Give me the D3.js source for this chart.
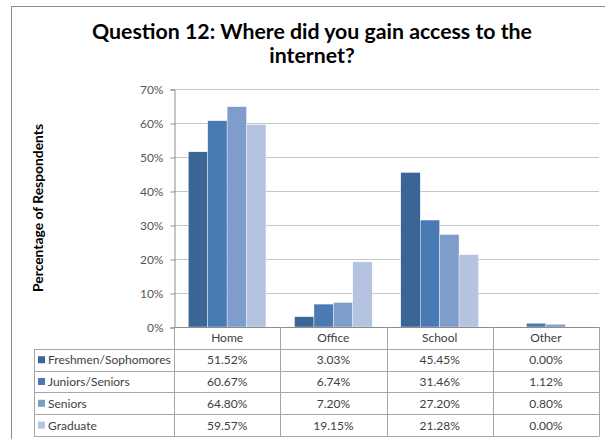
<!DOCTYPE html>
<html>
<head>
<meta charset="utf-8">
<script src="https://cdn.jsdelivr.net/npm/d3@7"></script>
<style>
  body { margin: 0; background: #fff; }
  text { font-family: Lato, "Open Sans", sans-serif; }
</style>
</head>
<body>
<div id="chart"></div>
<script>
// Chart data
const categories = ['Home', 'Office', 'School', 'Other'];
const seriesNames = ['Freshmen/Sophomores', 'Juniors/Seniors', 'Seniors', 'Graduate'];
const freshmenSophomores = [51.52, 3.03, 45.45, 0.00];
const juniorsSeniors = [60.67, 6.74, 31.46, 1.12];
const seniors = [64.80, 7.20, 27.20, 0.80];
const graduate = [59.57, 19.15, 21.28, 0.00];
const yTicks = [0, 10, 20, 30, 40, 50, 60, 70];

const seriesValues = [freshmenSophomores, juniorsSeniors, seniors, graduate];
const colors = ['#3b6497', '#4a7ab4', '#7e9dcb', '#b4c4e0'];

const width = 605;
const height = 439;
const plot = { left: 174, right: 599, top: 89, bottom: 327 };
const rowH = 21.8;
const tableLeft = 34;
const tableFont = '12px';

const svg = d3.select('#chart')
  .append('svg')
  .attr('width', width)
  .attr('height', height);

// Scale a text's font size so it spans roughly the given width
function fitWidth(sel, target) {
  const node = sel.node();
  const size = parseFloat(sel.style('font-size'));
  const w = node.getComputedTextLength();
  if (w > 0) sel.style('font-size', (size * target / w).toFixed(2) + 'px');
}

// Outer chart border
svg.append('rect')
  .attr('x', 11.5)
  .attr('y', 6.5)
  .attr('width', 620)
  .attr('height', 440)
  .attr('fill', 'none')
  .attr('stroke', '#8c8c8c')
  .attr('stroke-width', 1);

// Title
const title = svg.append('text')
  .attr('text-anchor', 'middle')
  .style('font-size', '20px')
  .style('font-weight', 'bold')
  .style('fill', '#000');
title.append('tspan').attr('x', 312).attr('y', 39).text('Question 12: Where did you gain access to the');
fitWidth(title, 440);
title.append('tspan').attr('x', 312).attr('y', 63).text('internet?');

// Scales
const x0 = d3.scaleBand()
  .domain(categories)
  .range([plot.left, plot.right])
  .paddingInner(0)
  .paddingOuter(0);

const x1 = d3.scaleBand()
  .domain(seriesNames)
  .range([0, x0.bandwidth()])
  .paddingOuter(0.735)
  .paddingInner(0);

const y = d3.scaleLinear()
  .domain([0, 70])
  .range([plot.bottom, plot.top]);

// Gridlines
svg.append('g')
  .selectAll('line')
  .data(yTicks.filter(d => d > 0))
  .enter()
  .append('line')
  .attr('x1', plot.left)
  .attr('x2', plot.right)
  .attr('y1', d => Math.round(y(d)) + 0.5)
  .attr('y2', d => Math.round(y(d)) + 0.5)
  .attr('stroke', '#c6c6c6');

// Y axis
const yAxis = d3.axisLeft(y)
  .tickValues(yTicks)
  .tickSize(4)
  .tickPadding(7)
  .tickFormat(d => d + '%');

const yAxisG = svg.append('g')
  .attr('transform', `translate(${plot.left + 0.5},0.5)`)
  .call(yAxis);
yAxisG.select('.domain').attr('stroke', '#8c8c8c');
yAxisG.selectAll('.tick line').attr('stroke', '#8c8c8c');
yAxisG.selectAll('.tick text')
  .style('font-size', '12px')
  .style('fill', '#555')
  .style('font-family', 'Lato, sans-serif');

// Bars
const groups = svg.append('g')
  .selectAll('g')
  .data(categories)
  .enter()
  .append('g')
  .attr('transform', d => `translate(${x0(d)},0)`);

groups.selectAll('rect')
  .data((d, ci) => seriesNames.map((s, si) => ({ s, v: seriesValues[si][ci], si })))
  .enter()
  .append('rect')
  .attr('x', d => x1(d.s))
  .attr('y', d => y(d.v))
  .attr('width', x1.bandwidth())
  .attr('height', d => y(0) - y(d.v))
  .attr('fill', d => colors[d.si])
  .attr('stroke', '#fff')
  .attr('stroke-width', 0.4);

// Data table
const tableTop = plot.bottom;
const tableBottom = tableTop + rowH * 5;
const lineColor = '#a6a6a6';
const tbl = svg.append('g');

// Horizontal lines
for (let r = 0; r <= 5; r++) {
  const yy = Math.round(tableTop + r * rowH) + 0.5;
  tbl.append('line')
    .attr('x1', r === 0 ? plot.left : tableLeft)
    .attr('x2', plot.right)
    .attr('y1', yy)
    .attr('y2', yy)
    .attr('stroke', r === 0 ? '#8c8c8c' : lineColor);
}

// Vertical lines
const vx = [plot.left].concat(categories.map(c => x0(c) + x0.bandwidth()));
vx.forEach(xx => {
  tbl.append('line')
    .attr('x1', Math.round(xx) + 0.5)
    .attr('x2', Math.round(xx) + 0.5)
    .attr('y1', tableTop)
    .attr('y2', Math.round(tableBottom) + 0.5)
    .attr('stroke', lineColor);
});
tbl.append('line')
  .attr('x1', tableLeft + 0.5)
  .attr('x2', tableLeft + 0.5)
  .attr('y1', Math.round(tableTop + rowH) + 0.5)
  .attr('y2', Math.round(tableBottom) + 0.5)
  .attr('stroke', lineColor);

// Category header row
tbl.selectAll('.cat')
  .data(categories)
  .enter()
  .append('text')
  .attr('class', 'cat')
  .attr('x', d => x0(d) + x0.bandwidth() / 2)
  .attr('y', tableTop + rowH / 2 + 4.5)
  .attr('text-anchor', 'middle')
  .style('font-size', tableFont)
  .style('fill', '#404040')
  .text(d => d);

// Series rows
seriesNames.forEach((name, si) => {
  const cy = tableTop + rowH * (si + 1) + rowH / 2;
  tbl.append('rect')
    .attr('x', 38)
    .attr('y', cy - 3.5)
    .attr('width', 7)
    .attr('height', 7)
    .attr('fill', colors[si]);
  tbl.append('text')
    .attr('x', 48)
    .attr('y', cy + 4.5)
    .style('font-size', tableFont)
    .style('fill', '#404040')
    .text(name);
  categories.forEach((c, ci) => {
    tbl.append('text')
      .attr('x', x0(c) + x0.bandwidth() / 2)
      .attr('y', cy + 4.5)
      .attr('text-anchor', 'middle')
      .style('font-size', tableFont)
      .style('fill', '#404040')
      .text(seriesValues[si][ci].toFixed(2) + '%');
  });
});

// Y axis title
const yTitle = svg.append('text')
  .attr('transform', 'rotate(-90)')
  .attr('x', -208)
  .attr('y', 43)
  .attr('text-anchor', 'middle')
  .style('font-size', '13px')
  .style('font-weight', 'bold')
  .style('fill', '#000')
  .text('Percentage of Respondents');
fitWidth(yTitle, 168);
</script>
</body>
</html>
